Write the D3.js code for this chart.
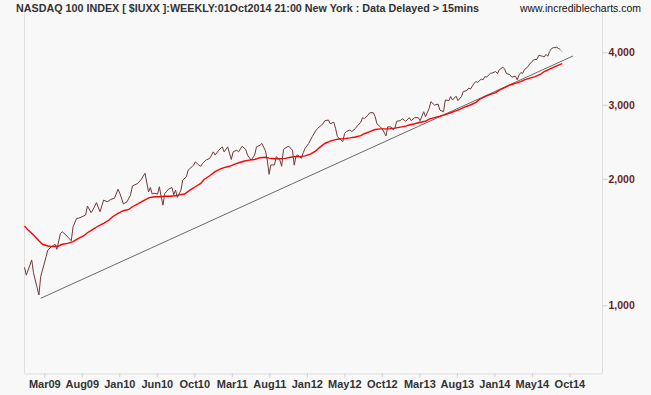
<!DOCTYPE html>
<html>
<head>
<meta charset="utf-8">
<script src="https://cdn.jsdelivr.net/npm/d3@7"></script>
<style>
    html, body { margin: 0; padding: 0; background: #f8f8f8; }
    svg { display: block; font-family: "Liberation Sans", Arial, sans-serif; }
</style>
</head>
<body>
<svg id="chart" width="651" height="395"></svg>
<script>
// weekly bars, counted in weeks from the first bar
const firstBar = new Date(2009, 0, 2);

// [week, close]
const closeSeries = [
    [0,1231],[1,1180],[4,1282],[5,1195],[8,1058],[9,1170],[10,1213],[12,1305],[13,1354],[15,1379],
    [17,1397],[18,1359],[20,1483],[21,1496],[23,1470],[26,1424],[27,1538],[29,1611],[30,1611],[32,1625],
    [34,1640],[35,1723],[37,1662],[38,1686],[40,1755],[42,1670],[44,1780],[46,1763],[48,1787],[50,1797],
    [52,1889],[53,1848],[55,1743],[57,1763],[59,1832],[60,1923],[63,1950],[65,1995],[67,2062],[69,1860],
    [70,1907],[71,1840],[72,1848],[74,1840],[75,1915],[76,1812],[77,1731],[78,1848],[79,1864],[80,1889],
    [82,1907],[83,1832],[84,1880],[85,1806],[87,1880],[88,1986],[90,2022],[91,2097],[92,2116],[94,2155],
    [95,2195],[97,2155],[98,2142],[99,2175],[101,2218],[103,2237],[105,2318],[106,2278],[108,2339],[110,2382],
    [111,2318],[113,2382],[115,2223],[116,2318],[118,2339],[119,2318],[121,2390],[123,2349],[124,2278],[126,2216],
    [128,2278],[129,2382],[131,2405],[132,2427],[134,2330],[135,2216],[136,2050],[137,2158],[139,2158],[140,2258],
    [142,2216],[143,2142],[144,2349],[146,2382],[147,2390],[149,2339],[150,2155],[151,2267],[152,2278],[154,2237],
    [155,2307],[156,2361],[158,2427],[160,2519],[162,2605],[163,2635],[165,2681],[166,2704],[167,2750],[169,2760],
    [170,2704],[172,2727],[173,2635],[174,2519],[176,2475],[177,2452],[178,2565],[179,2590],[181,2615],[182,2590],
    [184,2635],[185,2670],[187,2727],[188,2796],[189,2780],[191,2834],[192,2872],[194,2872],[195,2810],[196,2704],
    [198,2655],[199,2628],[201,2530],[202,2660],[204,2655],[205,2615],[206,2645],[207,2741],[209,2750],[210,2780],
    [212,2741],[214,2796],[215,2750],[217,2796],[219,2796],[220,2750],[222,2888],[223,2810],[225,2940],[226,3052],
    [228,2995],[230,3012],[231,2914],[233,2888],[234,3080],[236,3070],[237,3138],[238,3080],[240,3145],[241,3070],
    [243,3138],[244,3226],[246,3243],[247,3288],[248,3270],[250,3375],[251,3406],[252,3392],[254,3454],[255,3440],
    [256,3502],[257,3490],[259,3565],[260,3570],[262,3600],[263,3560],[264,3635],[266,3687],[267,3648],[268,3563],
    [270,3535],[271,3490],[273,3510],[274,3440],[275,3535],[276,3580],[277,3563],[278,3635],[280,3698],[281,3760],
    [282,3787],[283,3837],[285,3850],[286,3935],[288,3915],[289,3900],[290,3955],[291,3915],[292,4015],[293,4083],
    [294,4100],[296,4112],[297,4083],[298,4066],[299,4000]
];

// [week, moving average]
const maSeries = [
    [0,1544],[2,1510],[5,1470],[8,1424],[10,1397],[13,1384],[16,1379],[19,1384],[21,1397],[24,1404],
    [27,1417],[30,1443],[33,1464],[35,1488],[38,1516],[41,1544],[44,1567],[47,1596],[49,1625],[52,1655],
    [55,1679],[58,1692],[60,1716],[63,1743],[66,1773],[69,1802],[72,1812],[75,1812],[78,1818],[81,1818],
    [84,1822],[86,1832],[89,1840],[92,1880],[95,1915],[98,1950],[100,1995],[103,2034],[106,2080],[109,2111],
    [111,2127],[114,2142],[117,2167],[120,2190],[123,2208],[125,2216],[128,2223],[131,2245],[134,2250],[136,2240],
    [139,2233],[142,2233],[145,2237],[148,2250],[150,2258],[153,2258],[156,2267],[159,2290],[162,2330],[164,2373],
    [167,2427],[170,2458],[173,2479],[175,2488],[178,2493],[181,2502],[184,2515],[187,2534],[189,2560],[192,2590],
    [195,2620],[198,2630],[200,2630],[203,2630],[206,2640],[209,2655],[212,2670],[214,2685],[217,2704],[220,2727],
    [223,2741],[225,2773],[228,2796],[231,2818],[234,2843],[237,2872],[239,2894],[242,2925],[245,2966],[248,2997],
    [251,3040],[253,3089],[256,3138],[259,3177],[262,3208],[264,3251],[267,3294],[270,3344],[273,3375],[276,3406],
    [278,3440],[281,3471],[284,3502],[287,3547],[289,3600],[292,3648],[295,3698],[299,3760]
];

// trend line end points [week, value]
const trendLine = [[9,1039],[305,3920]];

const tickDates = ['2009-03-20','2009-08-13','2010-01-06','2010-06-01','2010-10-25',
    '2011-03-20','2011-08-13','2012-01-06','2012-05-31','2012-10-24',
    '2013-03-19','2013-08-12','2014-01-05','2014-05-31','2014-10-24'];
const priceTicks = [1000, 2000, 3000, 4000];

const title = 'NASDAQ 100 INDEX [ $IUXX ]:WEEKLY:01Oct2014 21:00 New York : Data Delayed > 15mins';
const site = 'www.incrediblecharts.com';

const plot = { left: 24, right: 602, top: 13, bottom: 373 };

const svg = d3.select('#chart');
const parse = d3.timeParse('%Y-%m-%d');
const weekDate = (w) => d3.timeDay.offset(firstBar, w * 7);

const x = d3.scaleTime()
    .domain([new Date(2008, 11, 31), new Date(2015, 1, 28)])
    .range([plot.left, plot.right]);

const y = d3.scaleLog()
    .domain([1000, 4000])
    .range([305.3, 52.3]);

// frame sides
svg.append('g')
    .attr('stroke', '#dedede')
    .selectAll('line')
    .data([plot.left, plot.right])
    .enter()
    .append('line')
    .attr('x1', (d) => d + 0.5)
    .attr('x2', (d) => d + 0.5)
    .attr('y1', plot.top)
    .attr('y2', plot.bottom);

// bottom axis
const xAxis = svg.append('g')
    .attr('transform', `translate(0,${plot.bottom + 0.5})`)
    .call(
        d3.axisBottom(x)
            .tickValues(tickDates.map(parse))
            .tickSize(4)
            .tickSizeOuter(0)
            .tickPadding(3)
            .tickFormat(d3.timeFormat('%b%y'))
    );
xAxis.select('.domain').attr('stroke', '#dedede');
xAxis.selectAll('.tick line').attr('stroke', '#d0d0d0');
xAxis.selectAll('text')
    .attr('fill', '#333')
    .style('font-size', '11px')
    .style('font-weight', 'bold');

// price axis on the right
const yAxis = svg.append('g')
    .attr('transform', `translate(${plot.right + 0.5},0)`)
    .call(
        d3.axisRight(y)
            .tickValues(priceTicks)
            .tickSize(5)
            .tickPadding(1)
            .tickFormat(d3.format(','))
    );
yAxis.select('.domain').remove();
yAxis.selectAll('.tick line').attr('stroke', '#cfcfcf');
yAxis.selectAll('text')
    .attr('fill', '#6b1d1d')
    .style('font-size', '10.5px')
    .style('font-weight', 'bold');

const line = d3.line()
    .x((d) => x(weekDate(d[0])))
    .y((d) => y(d[1]));

svg.append('path')
    .datum(trendLine)
    .attr('fill', 'none')
    .attr('stroke', '#6a6a6a')
    .attr('stroke-width', 1)
    .attr('d', line);

svg.append('path')
    .datum(maSeries)
    .attr('fill', 'none')
    .attr('stroke', '#ff0000')
    .attr('stroke-width', 1.4)
    .attr('d', line);

svg.append('path')
    .datum(closeSeries.slice(0, -1))
    .attr('fill', 'none')
    .attr('stroke', '#6e3a3a')
    .attr('stroke-width', 1)
    .attr('stroke-linejoin', 'round')
    .attr('d', line);

// current (unfinished) week drawn lighter
svg.append('path')
    .datum(closeSeries.slice(-2))
    .attr('fill', 'none')
    .attr('stroke', '#d4a8a8')
    .attr('stroke-width', 1)
    .attr('d', line);

svg.append('text')
    .attr('x', 16)
    .attr('y', 12)
    .attr('fill', '#333')
    .attr('textLength', 463)
    .attr('lengthAdjust', 'spacingAndGlyphs')
    .style('font-size', '11px')
    .style('font-weight', 'bold')
    .text(title);

svg.append('text')
    .attr('x', 520)
    .attr('y', 12)
    .attr('fill', '#111')
    .attr('textLength', 121)
    .attr('lengthAdjust', 'spacingAndGlyphs')
    .style('font-size', '11px')
    .text(site);
</script>
</body>
</html>
